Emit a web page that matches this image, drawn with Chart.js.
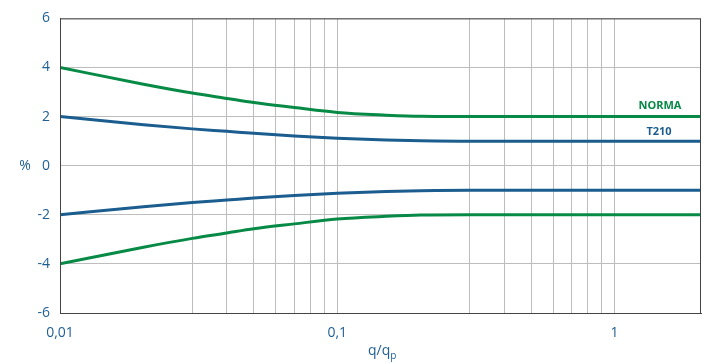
<!DOCTYPE html>
<html>
<head>
<meta charset="utf-8">
<script src="https://cdn.jsdelivr.net/npm/chart.js@4.4.0/dist/chart.umd.min.js"></script>
<style>
  body { margin: 0; background: #fff; }
  #wrap { width: 707px; height: 364px; }
</style>
</head>
<body>
<div id="wrap"><canvas id="chart"></canvas></div>
<script>
// values
const qValues = [0.01, 0.02, 0.03, 0.04, 0.05, 0.07, 0.1, 0.15, 0.2, 0.3, 2.05]
const normaUpper = [4.0, 3.32, 2.96, 2.74, 2.57, 2.37, 2.17, 2.06, 2.01, 2.0, 2.0]
const normaLower = [-4.0, -3.32, -2.96, -2.74, -2.57, -2.37, -2.17, -2.06, -2.01, -2.0, -2.0]
const t210Upper = [2.0, 1.67, 1.5, 1.4, 1.32, 1.21, 1.12, 1.05, 1.02, 1.0, 1.0]
const t210Lower = [-2.0, -1.67, -1.5, -1.4, -1.32, -1.21, -1.12, -1.05, -1.02, -1.0, -1.0]
const xGridTicks = [0.01, 0.03, 0.04, 0.05, 0.06, 0.07, 0.08, 0.09, 0.1, 0.3, 0.4, 0.5, 0.6, 0.7, 0.8, 0.9, 1]
const xLabelTicks = [0.01, 0.1, 1]
const yTicks = [-6, -4, -2, 0, 2, 4, 6]

const GREEN = '#078a45'
const BLUE = '#1b5d8f'
const TEXT = '#1f5f94'
const FONT = "'Open Sans', sans-serif"

const toPoints = (ys) => qValues.map((q, i) => ({ x: q, y: ys[i] }))

const line = (ys, color) => ({
    data: toPoints(ys),
    borderColor: color,
    borderWidth: 3,
    pointRadius: 0,
    cubicInterpolationMode: 'monotone',
    fill: false,
})

// frame, series names and axis names
const extras = {
    id: 'extras',
    afterDraw(chart){
        const { ctx, chartArea: a, scales } = chart
        ctx.save()
        ctx.strokeStyle = '#444'
        ctx.lineWidth = 1
        ctx.strokeRect(a.left + 0.5, a.top + 0.5, a.right - a.left - 1, a.bottom - a.top)

        ctx.font = "bold 11px " + FONT
        ctx.textAlign = 'center'
        ctx.textBaseline = 'middle'
        ctx.fillStyle = GREEN
        ctx.fillText('NORMA', 660, scales.y.getPixelForValue(2) - 11)
        ctx.fillStyle = BLUE
        ctx.fillText('T210', 659, scales.y.getPixelForValue(1) - 9)

        ctx.fillStyle = TEXT
        ctx.font = "14px " + FONT
        ctx.fillText('%', 25, scales.y.getPixelForValue(0))
        ctx.textAlign = 'left'
        const w = ctx.measureText('q/q').width
        ctx.fillText('q/q', 368, 351)
        ctx.font = "10px " + FONT
        ctx.fillText('p', 368 + w, 356)
        ctx.restore()
    }
}

new Chart(document.getElementById('chart'), {
    type: 'line',
    data: {
        datasets: [
            line(normaUpper, GREEN),
            line(normaLower, GREEN),
            line(t210Upper, BLUE),
            line(t210Lower, BLUE),
        ]
    },
    options: {
        responsive: true,
        maintainAspectRatio: false,
        animation: false,
        layout: { padding: { top: 14, right: 6, left: 0, bottom: 0 } },
        plugins: { legend: { display: false }, tooltip: { enabled: false } },
        scales: {
            x: {
                type: 'logarithmic',
                min: 0.01,
                max: 2.05,
                afterBuildTicks: (s) => { s.ticks = xGridTicks.map(v => ({ value: v })) },
                afterFit: (s) => { s.height = 51 },
                grid: { color: '#bdbdbd', lineWidth: 1, drawTicks: false },
                border: { display: true, color: '#444' },
                ticks: {
                    autoSkip: false,
                    maxRotation: 0,
                    padding: 12,
                    color: TEXT,
                    font: { family: FONT, size: 14 },
                    callback: (v) => xLabelTicks.includes(v) ? String(v).replace('.', ',') : '',
                },
            },
            y: {
                min: -6,
                max: 6,
                afterBuildTicks: (s) => { s.ticks = yTicks.map(v => ({ value: v })) },
                afterFit: (s) => { s.width = 60 },
                grid: { color: '#bdbdbd', lineWidth: 1, drawTicks: false },
                border: { display: true, color: '#444' },
                ticks: {
                    padding: 10,
                    color: TEXT,
                    font: { family: FONT, size: 14 },
                },
            },
        },
    },
    plugins: [extras],
})
</script>
</body>
</html>
